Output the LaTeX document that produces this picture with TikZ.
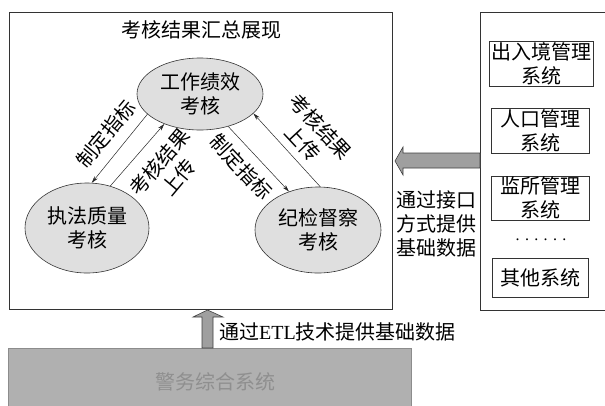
\documentclass[tikz,border=0pt]{standalone}
\usepackage{fontspec}
\setmainfont{Liberation Serif}
\newfontfamily\cjk{Noto Sans CJK SC}
\usetikzlibrary{arrows.meta,shapes.geometric}
\tikzset{
  txt/.style={font=\cjk\fontsize{20}{24}\selectfont, inner sep=0pt, align=center},
  frame/.style={draw=black!80, line width=0.7pt},
  ell/.style={ellipse, draw=black!80, line width=0.6pt, fill=gray!25, inner sep=0pt, txt},
  sysbox/.style={draw=black!80, line width=0.6pt, txt},
  link/.style={draw=black!85, line width=0.5pt, -{Stealth[length=7pt,width=4pt]}},
  lab/.style={txt},
  blockarrow/.style={draw=black!75, line width=0.6pt, fill=gray!75},
}
\begin{document}
\begin{tikzpicture}[x=1pt,y=-1pt]
\useasboundingbox (0,0) rectangle (605,405);
% frames
\draw[frame] (9,12) rectangle (392,309);
\draw[frame] (480,12) rectangle (612,310);
\node[txt] (title) at (201,30) {考核结果汇总展现};
% ellipses
\node[ell, minimum width=126pt, minimum height=72pt] (top) at (200,94) {工作绩效\\考核};
\node[ell, minimum width=124pt, minimum height=90pt] (left) at (87,228) {执法质量\\考核};
\node[ell, minimum width=126pt, minimum height=86pt] (right) at (318,230) {纪检督察\\考核};
% connectors
\draw[link] (top.201) -- (left.84);
\draw[link] (left.61) -- (top.220);
\draw[link] (top.311) -- (right.127);
\draw[link] (right.87) -- (top.340);
% labels
\node[lab, rotate=50] (l1) at (106,134) {制定指标};
\node[lab, rotate=50] (l2) at (169,170) {考核结果\\上传};
\node[lab, rotate=-47] (r1) at (241,167) {制定指标};
\node[lab, rotate=-47] (r2) at (312,135) {考核结果\\上传};
% right systems
\node[sysbox, minimum width=104pt, minimum height=45pt] (s1) at (541,63.5) {出入境管理\\系统};
\node[sysbox, minimum width=98pt, minimum height=45pt] (s2) at (540,130.5) {人口管理\\系统};
\node[sysbox, minimum width=98pt, minimum height=44pt] (s3) at (540,198) {监所管理\\系统};
\node[font=\fontsize{16}{16}\selectfont, inner sep=0pt] (dots) at (541,240) {.\,\,.\,\,.\,\,.\,\,.\,\,.};
\node[sysbox, minimum width=96pt, minimum height=39pt] (s4) at (540,277.5) {其他系统};
% left block arrow
\draw[blockarrow] (480,153) -- (403,153) -- (403,147) -- (395,161) -- (403,175) -- (403,168) -- (480,168) -- cycle;
\node[txt, align=left] (iface) at (436,224) {通过接口\\方式提供\\基础数据};
% bottom system
\fill[gray!62] (8,348) rectangle (411,410);
\draw[draw=gray!90, line width=0.6pt] (8,410) -- (8,348) -- (411,348) -- (411,410);
\node[txt, text=gray!88] (jw) at (215,382) {警务综合系统};
\draw[blockarrow] (202,348) -- (202,317) -- (193,317) -- (207.5,310) -- (223,317) -- (213,317) -- (213,348) -- cycle;
\node[txt, anchor=west] (etl) at (219,332) {通过{\rmfamily ETL}技术提供基础数据};
\end{tikzpicture}
\end{document}
